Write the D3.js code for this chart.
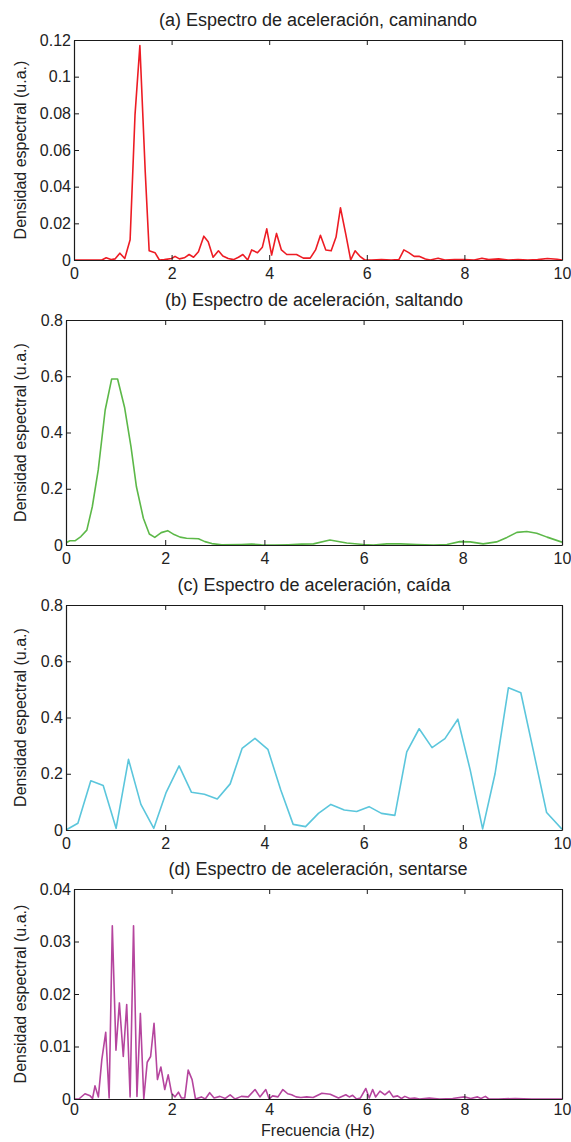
<!DOCTYPE html>
<html>
<head>
<meta charset="utf-8">
<script src="https://cdn.jsdelivr.net/npm/d3@7"></script>
<style>
  html, body { margin: 0; padding: 0; background: #fff; }
  svg { display: block; }
  text { font-family: "Liberation Sans", Arial, Helvetica, sans-serif; fill: #222; }
</style>
</head>
<body>
<svg id="chart" width="571" height="1142"></svg>
<script>
// ---------- DATA ----------
const xTicks = [0, 2, 4, 6, 8, 10];

const titleA = "(a) Espectro de aceleración, caminando";
const freqA = [0,0.2,0.4,0.57,0.66,0.77,0.84,0.94,1.04,1.15,1.25,1.35,1.46,1.54,1.66,1.75,1.85,2.0,2.07,2.16,2.26,2.36,2.45,2.55,2.66,2.75,2.85,2.96,3.05,3.16,3.27,3.37,3.46,3.56,3.64,3.76,3.86,3.95,4.05,4.15,4.25,4.36,4.46,4.56,4.7,4.84,4.95,5.05,5.16,5.27,5.37,5.46,5.57,5.67,5.76,5.86,5.96,6.1,6.3,6.5,6.66,6.76,6.86,6.97,7.07,7.2,7.3,7.46,7.6,7.8,8.0,8.2,8.36,8.5,8.7,8.9,9.1,9.3,9.5,9.7,9.9,10];
const valA = [0,0,0,0,0.0012,0.0002,0.0006,0.0037,0.0008,0.011,0.079,0.117,0.048,0.005,0.004,0,0.0002,0.0008,0.002,0.0006,0.0012,0.003,0.0015,0.0045,0.013,0.010,0.0015,0.005,0.0022,0.0008,0.0002,0.0015,0.003,0,0.0055,0.004,0.007,0.017,0.0027,0.0145,0.0055,0.003,0.003,0.003,0.001,0.001,0.0055,0.0135,0.0055,0.005,0.0125,0.0285,0.014,0,0.005,0.002,0,0,0.0003,0,0.0003,0.0055,0.004,0.002,0.002,0.0005,0,0.001,0,0.0002,0.0003,0,0.001,0.0002,0.0006,0,0.0003,0,0.0002,0.0008,0.0004,0];
const yTicksA = [0, 0.02, 0.04, 0.06, 0.08, 0.1, 0.12];
const yLabelsA = ["0", "0.02", "0.04", "0.06", "0.08", "0.1", "0.12"];

const titleB = "(b) Espectro de aceleración, saltando";
const freqB = [0,0.08,0.18,0.30,0.42,0.53,0.65,0.79,0.92,1.04,1.18,1.31,1.42,1.56,1.68,1.79,1.92,2.05,2.18,2.3,2.43,2.67,2.8,2.94,3.14,3.54,3.74,3.94,4.21,4.48,4.75,4.99,5.32,5.66,5.99,6.2,6.47,6.74,7.07,7.41,7.68,7.94,8.15,8.41,8.68,8.89,9.09,9.29,9.49,9.7,10];
const valB = [0.008,0.015,0.015,0.03,0.053,0.136,0.267,0.48,0.59,0.59,0.49,0.35,0.207,0.095,0.039,0.027,0.044,0.051,0.037,0.028,0.024,0.022,0.012,0.005,0.001,0.002,0.003,0.001,0,0.001,0.003,0.004,0.018,0.007,0.002,0,0.004,0.004,0.002,0,0.002,0.012,0.011,0.004,0.011,0.027,0.045,0.048,0.042,0.028,0.01];
const yTicksBC = [0, 0.2, 0.4, 0.6, 0.8];
const yLabelsBC = ["0", "0.2", "0.4", "0.6", "0.8"];

const titleC = "(c) Espectro de aceleración, caída";
const freqC = [0,0.24,0.5,0.75,1.01,1.26,1.51,1.77,2.02,2.28,2.53,2.79,3.05,3.31,3.55,3.81,4.07,4.33,4.58,4.83,5.09,5.34,5.61,5.86,6.11,6.36,6.63,6.87,7.12,7.38,7.64,7.90,8.15,8.40,8.65,8.92,9.17,9.42,9.69,10];
const valC = [0,0.024,0.175,0.158,0.006,0.251,0.091,0.006,0.134,0.228,0.134,0.127,0.110,0.164,0.29,0.326,0.287,0.142,0.02,0.012,0.059,0.091,0.071,0.066,0.083,0.059,0.052,0.278,0.36,0.293,0.325,0.394,0.213,0.004,0.2,0.506,0.488,0.284,0.062,0.003];

const titleD = "(d) Espectro de aceleración, sentarse";
const freqD = [0,0.1,0.225,0.33,0.38,0.43,0.5,0.57,0.65,0.72,0.785,0.86,0.93,1.01,1.08,1.15,1.22,1.29,1.36,1.43,1.50,1.57,1.64,1.71,1.78,1.86,1.93,2.0,2.07,2.14,2.2,2.27,2.34,2.42,2.49,2.61,2.69,2.78,2.87,2.99,3.1,3.2,3.3,3.43,3.57,3.71,3.81,3.93,4.0,4.07,4.18,4.28,4.38,4.46,4.55,4.65,4.77,4.9,5.08,5.25,5.42,5.57,5.64,5.71,5.79,5.87,5.98,6.05,6.12,6.18,6.27,6.37,6.46,6.54,6.63,6.71,6.78,6.88,6.98,7.08,7.28,7.49,7.76,8.0,8.13,8.27,8.34,8.43,8.5,8.7,9.04,9.38,10];
const valD = [0,0,0.001,0.0006,0.0001,0.0025,0.0004,0.0075,0.0127,0.0002,0.033,0.0093,0.0183,0.0081,0.018,0.0004,0.033,0.0005,0.0163,0,0.007,0.0081,0.0144,0.0037,0.0061,0.0018,0.0046,0.0011,0.0004,0.0013,0.0002,0.0002,0.0055,0.0037,0,0.0004,0,0.0012,0.0002,0.0005,0.0001,0.0008,0,0.0005,0.0004,0.0018,0.0004,0.0018,0,0.0006,0.0004,0.0018,0.001,0.0008,0.0004,0.0003,0.0004,0.0003,0.0011,0.0009,0.0002,0.0008,0.0004,0.0007,0,0.0002,0.002,0.0002,0.0018,0.0004,0.0015,0.0008,0.0015,0.0004,0.0006,0.0001,0.0005,0.0001,0.0002,0,0.0002,0,0.0001,0.0004,0.0001,0.0004,0.0001,0.0005,0,0,0.0001,0,0];
const yTicksD = [0, 0.01, 0.02, 0.03, 0.04];
const yLabelsD = ["0", "0.01", "0.02", "0.03", "0.04"];

const yAxisLabel = "Densidad espectral (u.a.)";
const xAxisLabel = "Frecuencia (Hz)";

// ---------- LAYOUT / STYLE ----------
const panels = [
  { title: titleA, freq: freqA, val: valA, yMax: 0.12, yTicks: yTicksA, yLabels: yLabelsA,
    left: 74, top: 40, bottom: 260, color: "#ed1c24" },
  { title: titleB, freq: freqB, val: valB, yMax: 0.8, yTicks: yTicksBC, yLabels: yLabelsBC,
    left: 66, top: 320, bottom: 545, color: "#5cb848" },
  { title: titleC, freq: freqC, val: valC, yMax: 0.8, yTicks: yTicksBC, yLabels: yLabelsBC,
    left: 66, top: 605, bottom: 830, color: "#5bc6dc" },
  { title: titleD, freq: freqD, val: valD, yMax: 0.04, yTicks: yTicksD, yLabels: yLabelsD,
    left: 74, top: 889, bottom: 1099, color: "#b5459e" }
];
const RIGHT = 562;
const TICK = 5;
const FONT = '"Liberation Sans", Arial, sans-serif';

const svg = d3.select("#chart");

panels.forEach((p, i) => {
  const x = d3.scaleLinear().domain([0, 10]).range([p.left, RIGHT]);
  const y = d3.scaleLinear().domain([0, p.yMax]).range([p.bottom, p.top]);
  const g = svg.append("g");

  const clipId = "clip" + i;
  svg.append("clipPath").attr("id", clipId).append("rect")
    .attr("x", p.left).attr("y", p.top - 1).attr("width", RIGHT - p.left).attr("height", p.bottom - p.top + 2);
  const line = d3.line().x(d => x(d[0])).y(d => y(d[1]));
  g.append("path")
    .datum(d3.zip(p.freq, p.val))
    .attr("clip-path", `url(#${clipId})`)
    .attr("fill", "none")
    .attr("stroke", p.color)
    .attr("stroke-width", 1.6)
    .attr("stroke-linejoin", "round")
    .attr("d", line);

  const fmtY = (d) => p.yLabels[p.yTicks.indexOf(d)];
  const axB = d3.axisBottom(x).tickValues(xTicks).tickSizeInner(-TICK).tickSizeOuter(0).tickFormat(d3.format("d"));
  const axT = d3.axisTop(x).tickValues(xTicks).tickSizeInner(-TICK).tickSizeOuter(0).tickFormat("");
  const axL = d3.axisLeft(y).tickValues(p.yTicks).tickSizeInner(-TICK).tickSizeOuter(0).tickFormat(fmtY);
  const axR = d3.axisRight(y).tickValues(p.yTicks).tickSizeInner(-TICK).tickSizeOuter(0).tickFormat("");

  const gB = g.append("g").attr("transform", `translate(0,${p.bottom})`).call(axB);
  const gT = g.append("g").attr("transform", `translate(0,${p.top})`).call(axT);
  const gL = g.append("g").attr("transform", `translate(${p.left},0)`).call(axL);
  const gR = g.append("g").attr("transform", `translate(${RIGHT},0)`).call(axR);
  [gB, gT, gL, gR].forEach(a => {
    a.selectAll(".domain").attr("stroke", "#1a1a1a").attr("stroke-width", 1.2);
    a.selectAll(".tick line").attr("stroke", "#1a1a1a").attr("stroke-width", 1);
    a.selectAll(".tick text").attr("font-size", 16).attr("fill", "#222").attr("font-family", FONT);
  });
  gL.selectAll(".tick text").attr("x", -3);
  gB.selectAll(".tick text").attr("y", i === panels.length - 1 ? 5 : 8);

  g.append("text")
    .attr("x", (p.left + RIGHT) / 2)
    .attr("y", p.top - 14)
    .attr("text-anchor", "middle")
    .attr("font-size", 18)
    .text(p.title);

  g.append("text")
    .attr("transform", `translate(26,${(p.top + p.bottom) / 2}) rotate(-90)`)
    .attr("text-anchor", "middle")
    .attr("font-size", 16)
    .text(yAxisLabel);

  if (i === panels.length - 1) {
    g.append("text")
      .attr("x", (p.left + RIGHT) / 2)
      .attr("y", p.bottom + 37)
      .attr("text-anchor", "middle")
      .attr("font-size", 16)
      .text(xAxisLabel);
  }
});
</script>
</body>
</html>
